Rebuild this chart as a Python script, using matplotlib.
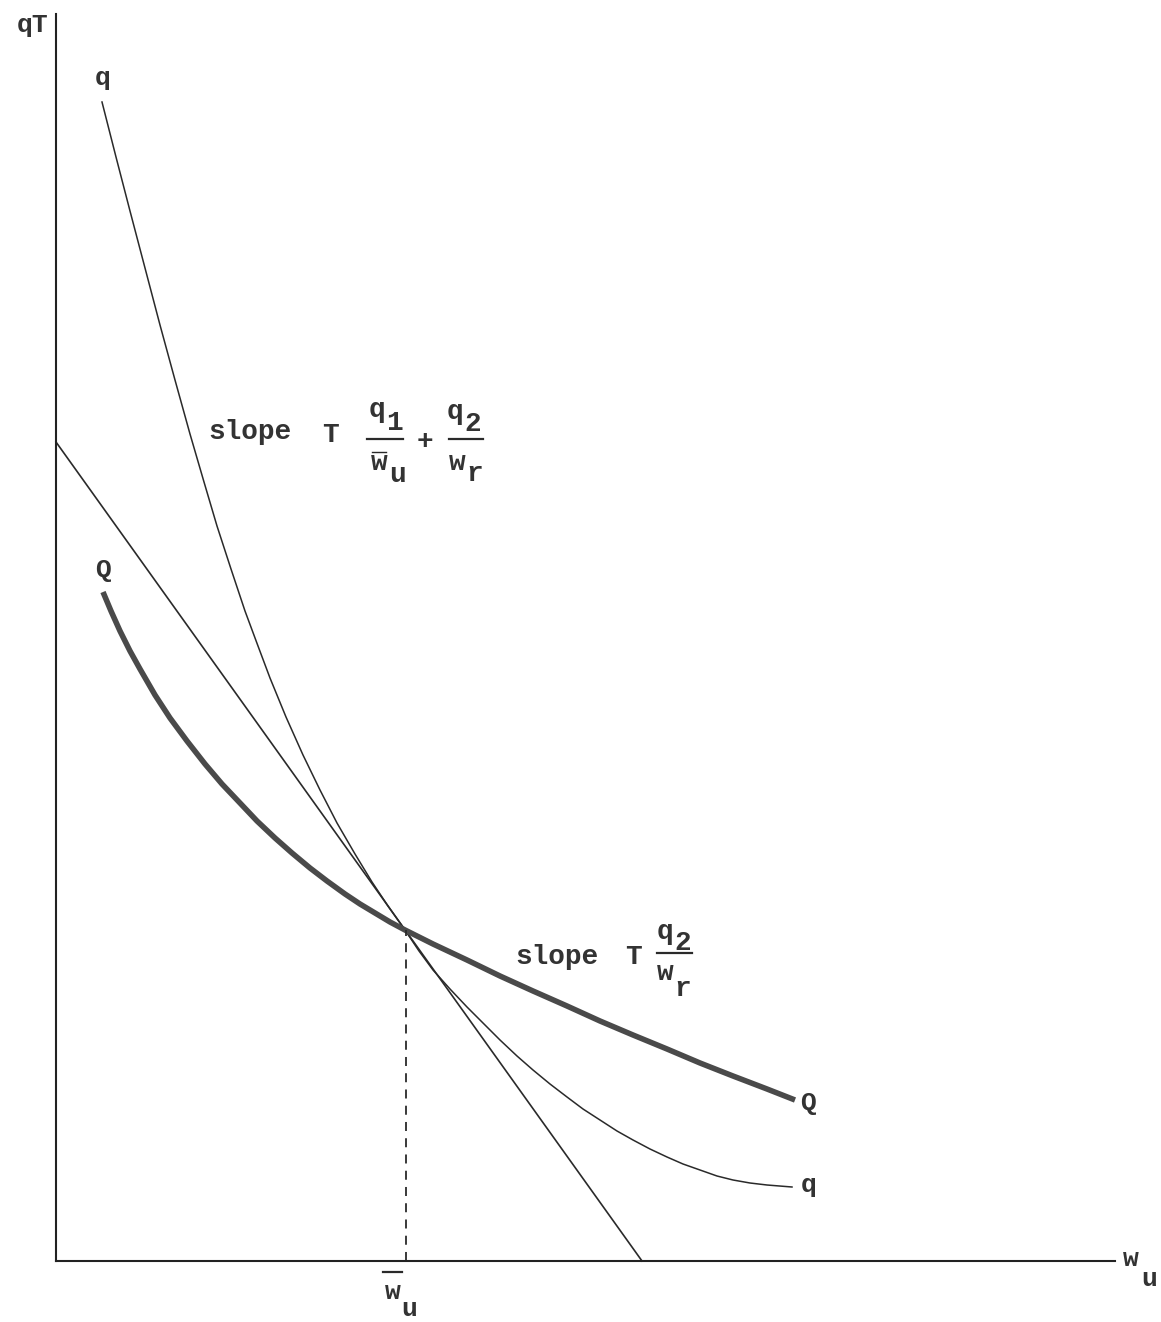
import matplotlib.pyplot as plt

# readings, in arbitrary units (w_u across, qT up)
q_x = [0.46, 0.60, 0.74, 0.89, 1.04, 1.19, 1.34, 1.48, 1.61, 1.75, 1.89,
       2.02, 2.14, 2.30, 2.47, 2.64, 2.81, 2.99, 3.16, 3.32, 3.49,
       3.63, 3.77, 3.94, 4.11, 4.27, 4.44, 4.61, 4.77, 4.94, 5.11, 5.27,
       5.44, 5.61, 5.77, 5.94, 6.11, 6.27, 6.44, 6.61, 6.77, 6.94, 7.11, 7.36]
q_y = [11.59, 11.04, 10.50, 9.93, 9.36, 8.81, 8.27, 7.79, 7.35, 6.92, 6.50,
       6.15, 5.83, 5.44, 5.06, 4.71, 4.38, 4.07, 3.79, 3.55, 3.31,
       3.10, 2.91, 2.72, 2.54, 2.38, 2.21, 2.05, 1.91, 1.77, 1.64, 1.52,
       1.41, 1.30, 1.21, 1.12, 1.04, 0.97, 0.91, 0.85, 0.81, 0.78, 0.76, 0.74]

Q_x = [0.47, 0.55, 0.64, 0.74, 0.84, 0.99, 1.14, 1.31, 1.49, 1.66, 1.84,
       2.01, 2.19, 2.36, 2.54, 2.71, 2.89, 3.04, 3.19, 3.34, 3.49,
       3.77, 4.11, 4.44, 4.77, 5.11, 5.44, 5.77, 6.11, 6.44, 6.77, 7.11, 7.39]
Q_y = [6.69, 6.50, 6.30, 6.10, 5.92, 5.66, 5.43, 5.20, 4.97, 4.77, 4.58,
       4.40, 4.23, 4.08, 3.93, 3.80, 3.67, 3.57, 3.48, 3.39, 3.31,
       3.17, 3.01, 2.85, 2.70, 2.55, 2.40, 2.26, 2.12, 1.98, 1.85, 1.72, 1.61]

# straight line through the tangency point
line_x = [0.0, 5.86]
line_y = [8.19, 0.0]

wu_bar = 3.50
wu_bar_q = 3.31

fig = plt.figure(figsize=(11.61, 13.22), dpi=100)
ax = fig.add_axes([0, 0, 1, 1])
ax.set_xlim(-0.56, 11.05)
ax.set_ylim(-0.61, 12.61)

# axes through the origin
for s in ['top', 'right']:
    ax.spines[s].set_visible(False)
ax.spines['left'].set_position(('data', 0))
ax.spines['bottom'].set_position(('data', 0))
ax.spines['left'].set_bounds(0, 12.47)
ax.spines['bottom'].set_bounds(0, 10.59)
for s in ['left', 'bottom']:
    ax.spines[s].set_linewidth(1.5)
    ax.spines[s].set_color('#222222')
ax.set_xticks([])
ax.set_yticks([])

ink = '#2a2a2a'
ax.plot(line_x, line_y, color=ink, linewidth=1.2)
ax.plot(q_x, q_y, color=ink, linewidth=1.1)
ax.plot(Q_x, Q_y, color='#4a4a4a', linewidth=4.0, solid_capstyle='butt')
ax.plot([wu_bar, wu_bar], [0, wu_bar_q], color=ink, linewidth=1.3,
        linestyle=(0, (5, 4)))

font = dict(family='Liberation Mono', weight='bold', color='#333333')
big = 20
small = 19

# curve and axis labels
ax.text(-0.23, 12.36, 'qT', ha='center', va='center', fontsize=small, **font)
ax.text(0.47, 11.83, 'q', ha='center', va='center', fontsize=small, **font)
ax.text(0.47, 6.91, 'Q', ha='center', va='center', fontsize=small, **font)
ax.text(7.52, 1.58, 'Q', ha='center', va='center', fontsize=small, **font)
ax.text(7.53, 0.76, 'q', ha='center', va='center', fontsize=small, **font)
ax.text(10.75, 0.02, 'w', ha='center', va='center', fontsize=small, **font)
ax.text(10.93, -0.18, 'u', ha='center', va='center', fontsize=small, **font)

# w-bar u under the axis
ax.plot([3.27, 3.46], [-0.11, -0.11], color=ink, linewidth=1.6)
ax.text(3.37, -0.31, 'w', ha='center', va='center', fontsize=small, **font)
ax.text(3.53, -0.48, 'u', ha='center', va='center', fontsize=small, **font)

# slope T q1/w̄u + q2/wr
ax.text(1.52, 8.29, 'slope', ha='left', va='center', fontsize=big, **font)
ax.text(2.74, 8.26, 'T', ha='center', va='center', fontsize=big, **font)
ax.text(3.21, 8.51, 'q', ha='center', va='center', fontsize=big, **font)
ax.text(3.38, 8.38, '1', ha='center', va='center', fontsize=big, **font)
ax.plot([3.11, 3.47], [8.22, 8.22], color=ink, linewidth=1.6)
ax.plot([3.16, 3.30], [8.09, 8.09], color=ink, linewidth=1.0)
ax.text(3.23, 7.98, 'w', ha='center', va='center', fontsize=big, **font)
ax.text(3.41, 7.86, 'u', ha='center', va='center', fontsize=big, **font)
ax.text(3.69, 8.19, '+', ha='center', va='center', fontsize=big, **font)
ax.text(3.99, 8.49, 'q', ha='center', va='center', fontsize=big, **font)
ax.text(4.17, 8.37, '2', ha='center', va='center', fontsize=big, **font)
ax.plot([3.93, 4.27], [8.22, 8.22], color=ink, linewidth=1.6)
ax.text(4.01, 7.98, 'w', ha='center', va='center', fontsize=big, **font)
ax.text(4.19, 7.87, 'r', ha='center', va='center', fontsize=big, **font)

# slope T q2/wr
ax.text(4.59, 3.04, 'slope', ha='left', va='center', fontsize=big, **font)
ax.text(5.77, 3.04, 'T', ha='center', va='center', fontsize=big, **font)
ax.text(6.09, 3.29, 'q', ha='center', va='center', fontsize=big, **font)
ax.text(6.27, 3.18, '2', ha='center', va='center', fontsize=big, **font)
ax.plot([6.01, 6.36], [3.08, 3.08], color=ink, linewidth=1.6)
ax.text(6.09, 2.88, 'w', ha='center', va='center', fontsize=big, **font)
ax.text(6.27, 2.72, 'r', ha='center', va='center', fontsize=big, **font)

fig.savefig('out.png', dpi=100)
